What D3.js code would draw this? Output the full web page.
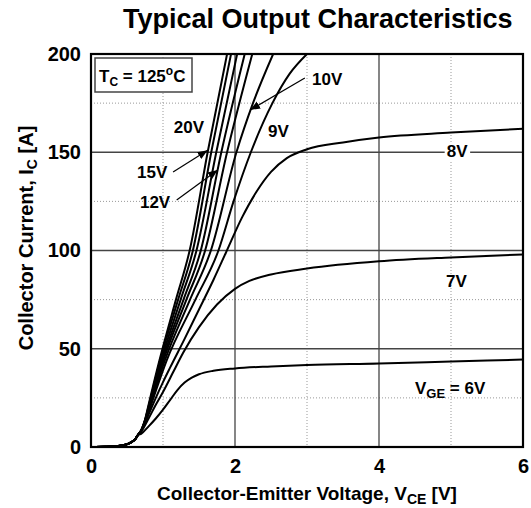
<!DOCTYPE html>
<html><head><meta charset="utf-8">
<script src="https://cdn.jsdelivr.net/npm/d3@7"></script>
<style>
body{margin:0;background:#fff}
text{font-family:"Liberation Sans",Arial,Helvetica,sans-serif;font-weight:bold;fill:#000}
</style>
</head><body>
<svg id="chart" width="531" height="508"></svg>
<script>
// ---- axis ticks ----
const xTicks = [0, 2, 4, 6];
const xMinor = [1, 3, 5];
const yTicks = [0, 50, 100, 150, 200];
const yMinor = [25, 75, 125, 175];

// ---- curves: [VCE (V), IC (A)] ----
const knee = [[0,0],[0.2,0.1],[0.35,0.35],[0.45,0.9],[0.55,2.2],[0.62,4.3],[0.65,6.0]];
const v20 = [...knee,[0.7,8.8],[0.75,13.8],[0.79,20],[0.95,44],[1.18,75],[1.37,100],[1.62,150],[1.89,200]];
const v15 = [...knee,[0.7,8.7],[0.75,13.6],[0.795,20],[0.96,44],[1.21,75],[1.415,100],[1.67,150],[1.945,200]];
const v13 = [...knee,[0.7,8.6],[0.75,13.4],[0.80,20],[0.975,44],[1.245,75],[1.465,100],[1.74,150],[2.03,200]];
const v12 = [...knee,[0.7,8.5],[0.75,13.2],[0.805,20],[0.99,44],[1.285,75],[1.525,100],[1.81,150],[2.135,200]];
const v11 = [...knee,[0.7,8.4],[0.75,13.0],[0.81,20],[1.005,44],[1.325,75],[1.585,100],[1.89,150],[2.24,200]];
const v10 = [...knee,[0.7,8.4],[0.75,12.9],[0.815,20],[1.025,44],[1.375,75],[1.665,100],[2.02,150],[2.25,175],[2.53,200]];
const v9  = [...knee,[0.7,8.3],[0.75,12.8],[0.82,20],[1.05,44],[1.45,75],[1.77,100],[1.98,125],[2.22,150],[2.52,175],[2.76,190],[3.0,200]];
const v8  = [...knee,[0.7,8.3],[0.8,16.5],[0.9,25],[1.0,33],[1.1,40.5],[1.3,55],[1.5,70],[1.7,85],[1.875,99],[2.1,117],[2.3,130],[2.5,140],[2.72,147],[3.0,151.5],[3.5,155],[4,157.5],[5,160],[6,162]];
const v7  = [...knee,[0.7,8.0],[0.8,14.5],[0.9,21.5],[1.0,28],[1.14,38],[1.28,48],[1.5,61],[1.75,72.5],[2.0,80.5],[2.2,84.5],[2.5,87.8],[3,90.8],[4,94.5],[5,96.5],[6,98]];
const v6  = [...knee,[0.7,6.8],[0.8,10.5],[0.9,14.5],[1.0,19],[1.1,24],[1.2,29],[1.3,32.8],[1.4,35.3],[1.5,37],[1.7,38.8],[2,40],[2.5,41],[3,41.7],[4,42.5],[5,43.5],[6,44.5]];
const seriesNames = ["20V","15V","13V","12V","11V","10V","9V","8V","7V","6V"];
const seriesData  = [v20, v15, v13, v12, v11, v10, v9, v8, v7, v6];

// ---- curve labels: [text, VCE, IC] (text anchor start, baseline) ----
const labelText = ["20V","15V","12V","10V","9V","8V","7V"];
const labelPos  = [[1.15,160],[0.64,137],[0.68,121.6],[3.07,184],[2.46,157.8],[4.94,147.6],[4.93,81.4]];
// arrows: [from VCE, from IC, to VCE, to IC]
const arrows = [[1.14,140,1.62,151],[1.19,125.7,1.76,141],[2.97,187.8,2.21,171.5]];

const svg = d3.select("#chart");
const m = {l:91, r:523, t:54, b:447};
const x = d3.scaleLinear().domain([0,6]).range([m.l, m.r]);
const y = d3.scaleLinear().domain([0,200]).range([m.b, m.t]);

// title
svg.append("text").attr("x",123).attr("y",28).attr("font-size",27).text("Typical Output Characteristics");

// minor grid (dotted)
const g = svg.append("g");
g.selectAll(".mx").data(xMinor).join("line")
  .attr("x1",d=>x(d)).attr("x2",d=>x(d)).attr("y1",m.t).attr("y2",m.b)
  .attr("stroke","#999").attr("stroke-width",1).attr("stroke-dasharray","1,2");
g.selectAll(".my").data(yMinor).join("line")
  .attr("y1",d=>y(d)).attr("y2",d=>y(d)).attr("x1",m.l).attr("x2",m.r)
  .attr("stroke","#999").attr("stroke-width",1).attr("stroke-dasharray","1,2");
// major grid
g.selectAll(".gx").data(xTicks.slice(1,-1)).join("line")
  .attr("x1",d=>x(d)).attr("x2",d=>x(d)).attr("y1",m.t).attr("y2",m.b)
  .attr("stroke","#444").attr("stroke-width",1.3);
g.selectAll(".gy").data(yTicks.slice(1,-1)).join("line")
  .attr("y1",d=>y(d)).attr("y2",d=>y(d)).attr("x1",m.l).attr("x2",m.r)
  .attr("stroke","#444").attr("stroke-width",1.3);

// axes labels via d3 axes (no tick lines)
const xa = svg.append("g").attr("transform",`translate(0,${m.b})`)
  .call(d3.axisBottom(x).tickValues(xTicks).tickSize(0).tickPadding(0).tickFormat(d3.format("d")));
xa.select(".domain").remove();
xa.selectAll("text").attr("font-size",20).attr("font-family",null).attr("dy",null).attr("y",26);
const ya = svg.append("g").attr("transform",`translate(${m.l},0)`)
  .call(d3.axisLeft(y).tickValues(yTicks).tickSize(0).tickPadding(10).tickFormat(d3.format("d")));
ya.select(".domain").remove();
ya.selectAll("text").attr("font-size",20).attr("font-family",null);

// clip
svg.append("clipPath").attr("id","clip").append("rect")
  .attr("x",m.l).attr("y",m.t).attr("width",m.r-m.l).attr("height",m.b-m.t);

// curves
const line = d3.line().x(d=>x(d[0])).y(d=>y(d[1])).curve(d3.curveMonotoneX);
svg.append("g").attr("clip-path","url(#clip)").selectAll("path").data(seriesData).join("path")
  .attr("d",line).attr("fill","none").attr("stroke","#000").attr("stroke-width",2)
  .attr("data-name",(d,i)=>seriesNames[i]);

// frame
svg.append("rect").attr("x",m.l).attr("y",m.t).attr("width",m.r-m.l).attr("height",m.b-m.t)
  .attr("fill","none").attr("stroke","#000").attr("stroke-width",2.2);

// legend box
const lg = svg.append("g");
lg.append("rect").attr("x",m.l+4).attr("y",m.t+4).attr("width",97).attr("height",34)
  .attr("fill","#fff").attr("stroke","#444").attr("stroke-width",1.5);
const lt = lg.append("text").attr("x",m.l+8).attr("y",m.t+28).attr("font-size",17);
lt.append("tspan").text("T");
lt.append("tspan").attr("font-size",12).attr("dy",4).text("C");
lt.append("tspan").attr("dy",-4).text(" = 125");
lt.append("tspan").attr("font-size",12).attr("dy",-7).text("o");
lt.append("tspan").attr("dy",7).text("C");

// arrows
svg.append("defs").append("marker").attr("id","ah").attr("viewBox","0 0 10 10")
  .attr("refX",10).attr("refY",5).attr("markerWidth",10).attr("markerHeight",10)
  .attr("markerUnits","userSpaceOnUse").attr("orient","auto")
  .append("path").attr("d","M0,1 L10,5 L0,9 Z").attr("fill","#000");
svg.selectAll(".arr").data(arrows).join("line")
  .attr("x1",d=>x(d[0])).attr("y1",d=>y(d[1])).attr("x2",d=>x(d[2])).attr("y2",d=>y(d[3]))
  .attr("stroke","#000").attr("stroke-width",1.2).attr("marker-end","url(#ah)");

// curve labels
const lbl = svg.append("g");
labelText.forEach((t,i)=>{
  const tx = lbl.append("text").attr("x",x(labelPos[i][0])).attr("y",y(labelPos[i][1]))
    .attr("font-size",17).text(t);
  if (t==="8V") {
    const bb = tx.node().getBBox();
    lbl.insert("rect","text").attr("x",bb.x-2).attr("y",bb.y).attr("width",bb.width+4).attr("height",bb.height).attr("fill","#fff");
  }
});
const v6t = lbl.append("text").attr("x",x(4.5)).attr("y",y(27)).attr("font-size",17);
v6t.append("tspan").text("V");
v6t.append("tspan").attr("font-size",13).attr("dy",4).text("GE");
v6t.append("tspan").attr("dy",-4).text(" = 6V");

// axis titles
const xt = svg.append("text").attr("x",(m.l+m.r)/2).attr("y",500).attr("text-anchor","middle").attr("font-size",19);
xt.append("tspan").text("Collector-Emitter Voltage, V");
xt.append("tspan").attr("font-size",14).attr("dy",4).text("CE");
xt.append("tspan").attr("dy",-4).text(" [V]");
const yt = svg.append("text").attr("transform","translate(33,238) rotate(-90)").attr("text-anchor","middle").attr("font-size",20);
yt.append("tspan").text("Collector Current, I");
yt.append("tspan").attr("font-size",14).attr("dy",4).text("C");
yt.append("tspan").attr("dy",-4).text(" [A]");
</script>
</body></html>
